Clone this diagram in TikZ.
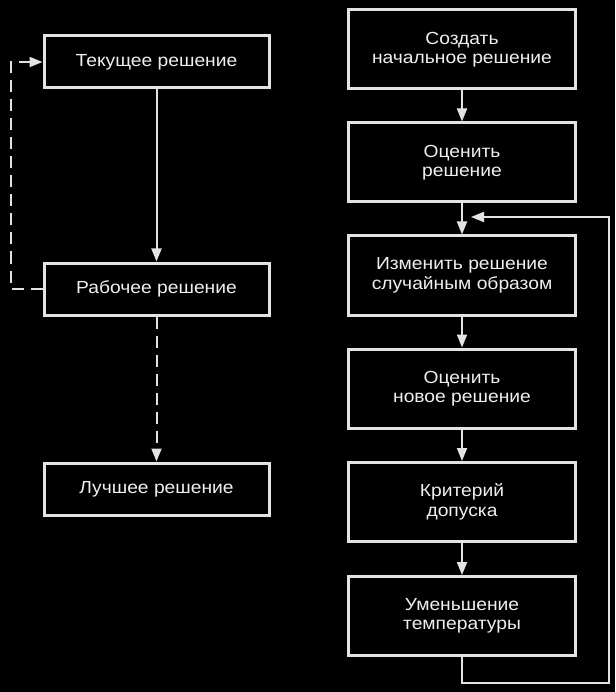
\documentclass[tikz,border=0pt]{standalone}
\usepackage{fontspec}
\setmainfont[FakeStretch=1.1]{Liberation Sans}
\usetikzlibrary{arrows.meta}
\definecolor{fg}{HTML}{E2E4E2}
\definecolor{txt}{HTML}{EEF0F0}
\begin{document}
\begin{tikzpicture}[x=1pt,y=-1pt,
  box/.style={draw=fg,line width=3pt,fill=black,text=txt,inner sep=0pt,
    font=\fontsize{17.5}{19.5}\selectfont,align=center},
  lbox/.style={box,minimum width=225pt,minimum height=52pt},
  rbox/.style={box,minimum width=227pt,minimum height=79pt},
  conn/.style={draw=fg,line width=2pt,-{Triangle[length=13pt,width=10pt,fill=fg]}},
  dconn/.style={conn,dash pattern=on 12pt off 7pt}]
\fill[black] (0,0) rectangle (615,692);
\useasboundingbox (0,0) rectangle (615,692);
% left
\node[lbox] (cur) at (156.5,62) {Текущее решение};
\node[lbox] (work) at (156.5,289) {Рабочее решение};
\node[lbox] (best) at (156.5,489) {Лучшее решение};
\draw[conn] (cur) -- (work);
\draw[dconn] (work) -- (best);
\coordinate (fbl) at (11,62);
\draw[dconn] (work.west) -| (fbl) -- (cur.west);
% right
\node[rbox] (r1) at (462,49.5) {Создать\\начальное решение};
\node[rbox] (r2) at (462,162.5) {Оценить\\решение};
\node[rbox] (r3) at (462,275.5) {Изменить решение\\случайным образом};
\node[rbox] (r4) at (462,388.5) {Оценить\\новое решение};
\node[rbox] (r5) at (462,502) {Критерий\\допуска};
\node[rbox] (r6) at (462,616) {Уменьшение\\температуры};
\draw[conn] (r1) -- (r2);
\draw[conn] (r2) -- (r3);
\draw[conn] (r3) -- (r4);
\draw[conn] (r4) -- (r5);
\draw[conn] (r5) -- (r6);
\coordinate (lb) at (462,683);
\coordinate (rb) at (609,683);
\coordinate (rt) at (609,217);
\coordinate (tip) at (471,217);
\draw[conn] (r6.south) -- (lb) -- (rb) -- (rt) -- (tip);
\end{tikzpicture}
\end{document}
